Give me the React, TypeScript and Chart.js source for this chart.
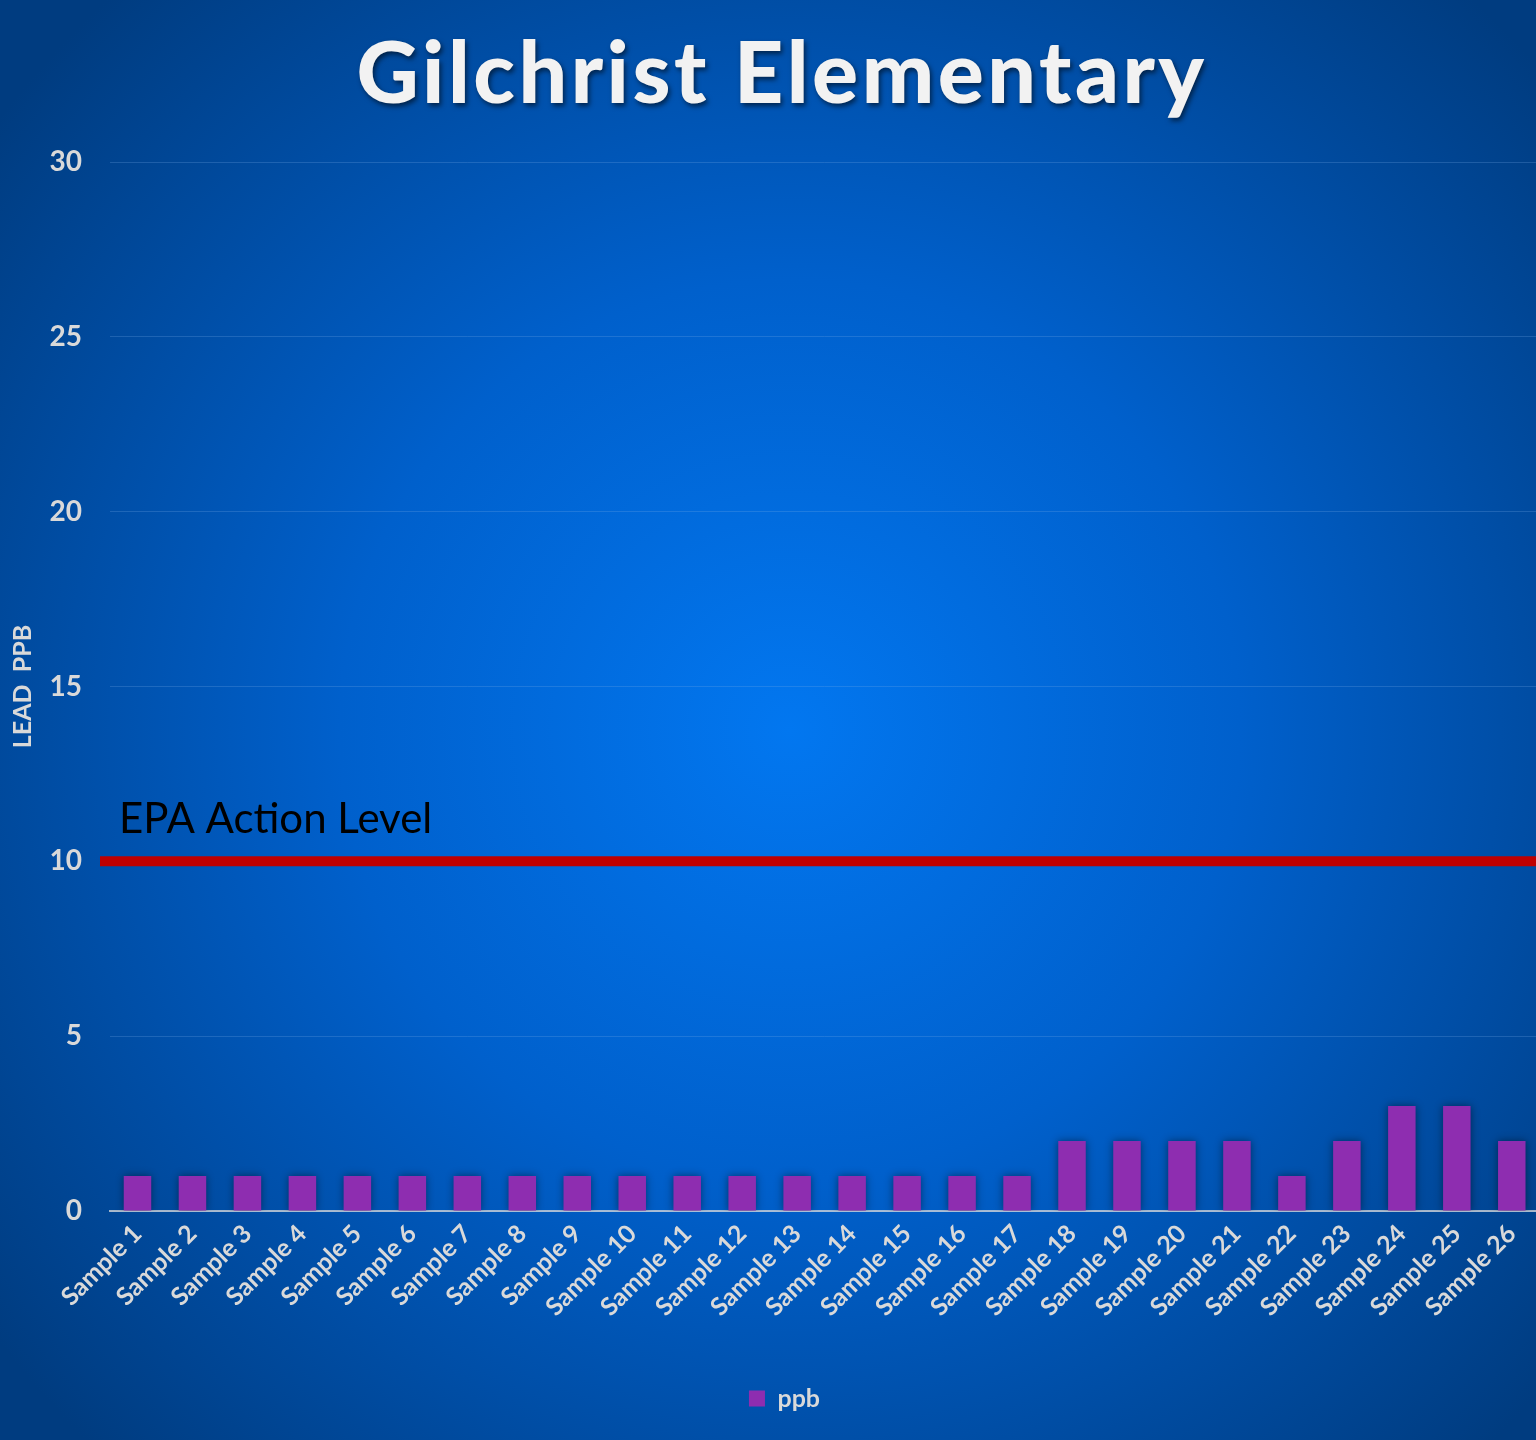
import React, { useEffect, useRef } from "react";
import { Chart, registerables } from "chart.js";

Chart.register(...registerables);

const categories = Array.from({ length: 26 }, (_, i) => `Sample ${i + 1}`);
const ppbValues = [1, 1, 1, 1, 1, 1, 1, 1, 1, 1, 1, 1, 1, 1, 1, 1, 1, 2, 2, 2, 2, 1, 2, 3, 3, 2];
const actionLevel = 10;
const titleText = "Gilchrist Elementary";
const actionLabel = "EPA Action Level";
const yAxisTitle = "LEAD  PPB";

const FONT = "Lato, 'Open Sans', sans-serif";
const TICK = "#d9d9d9";

const bgPlugin = {
  id: "bgPlugin",
  beforeDraw(chart: any) {
    const { ctx, width, height } = chart;
    ctx.save();
    const g = ctx.createRadialGradient(790, 730, 0, 790, 730, 1000);
    g.addColorStop(0, "#0277f0");
    g.addColorStop(0.45, "#0060cc");
    g.addColorStop(1, "#003c80");
    ctx.fillStyle = g;
    ctx.fillRect(0, 0, width, height);
    ctx.restore();
  },
};

const titlePlugin = {
  id: "titlePlugin",
  afterDraw(chart: any) {
    const { ctx } = chart;
    ctx.save();
    ctx.font = `900 86px ${FONT}`;
    (ctx as any).letterSpacing = "3.5px";
    ctx.textAlign = "center";
    ctx.textBaseline = "alphabetic";
    ctx.shadowColor = "rgba(0,0,0,0.55)";
    ctx.shadowBlur = 5;
    ctx.shadowOffsetX = 2;
    ctx.shadowOffsetY = 3;
    ctx.fillStyle = "#f2f2f2";
    ctx.fillText(titleText, 782, 103);
    ctx.restore();
  },
};

const shadowPlugin = {
  id: "shadowPlugin",
  beforeDatasetsDraw(chart: any) {
    const { ctx } = chart;
    ctx.save();
    ctx.shadowColor = "rgba(0,0,0,0.45)";
    ctx.shadowBlur = 8;
    ctx.shadowOffsetX = 0;
    ctx.shadowOffsetY = 0;
  },
  afterDatasetsDraw(chart: any) {
    chart.ctx.restore();
  },
};

const legendShift = {
  id: "legendShift",
  afterLayout(chart: any) {
    if (chart.legend) {
      chart.legend.left += 14;
      chart.legend.right += 14;
    }
  },
};

const actionPlugin = {
  id: "actionPlugin",
  afterDatasetsDraw(chart: any) {
    const { ctx, chartArea, scales, width } = chart;
    const y = scales.y.getPixelForValue(actionLevel);
    ctx.save();
    ctx.strokeStyle = "#c00000";
    ctx.lineWidth = 10;
    ctx.beginPath();
    ctx.moveTo(chartArea.left - 10, y);
    ctx.lineTo(width, y);
    ctx.stroke();
    ctx.fillStyle = "#000000";
    ctx.font = `400 42px ${FONT}`;
    ctx.textAlign = "left";
    ctx.textBaseline = "alphabetic";
    ctx.fillText(actionLabel, chartArea.left + 9, y - 28);
    ctx.restore();
  },
};

export default function App() {
  const ref = useRef<HTMLCanvasElement | null>(null);
  useEffect(() => {
    if (!ref.current) return;
    const chart = new Chart(ref.current, {
      type: "bar",
      data: {
        labels: categories,
        datasets: [
          {
            label: "ppb",
            data: ppbValues,
            backgroundColor: "#8e2db0",
            borderWidth: 0,
            categoryPercentage: 1,
            barPercentage: 0.5,
          },
        ],
      },
      options: {
        animation: false,
        responsive: false,
        maintainAspectRatio: false,
        layout: { padding: { top: 162, left: 0, right: 0, bottom: 19 } },
        plugins: {
          title: { display: false },
          tooltip: { enabled: false },
          legend: {
            position: "bottom",
            labels: {
              color: TICK,
              boxWidth: 16,
              boxHeight: 16,
              font: { family: FONT, size: 25, weight: "bold" },
              padding: 10,
            },
          },
        },
        scales: {
          x: {
            afterFit: (s: any) => {
              s.height = 165;
            },
            grid: { display: false, drawTicks: false },
            border: { display: true, color: "rgba(217,217,217,0.75)", width: 2 },
            ticks: {
              color: TICK,
              minRotation: 45,
              maxRotation: 45,
              autoSkip: false,
              padding: 8,
              font: { family: FONT, size: 25, weight: "bold" },
            },
          },
          y: {
            min: 0,
            max: 30,
            afterFit: (s: any) => {
              s.width = 110;
            },
            grid: { color: "rgba(120,170,230,0.25)", lineWidth: 1, drawTicks: false },
            border: { display: false },
            ticks: {
              stepSize: 5,
              color: TICK,
              padding: 28,
              font: { family: FONT, size: 28, weight: "bold" },
            },
            title: {
              display: true,
              text: yAxisTitle,
              color: TICK,
              padding: { top: 8, bottom: 0 },
              font: { family: FONT, size: 25, weight: "bold" },
            },
          },
        },
      },
      plugins: [bgPlugin, shadowPlugin, actionPlugin, titlePlugin, legendShift],
    });
    return () => chart.destroy();
  }, []);
  return (
    <div style={{ position: "fixed", left: 0, top: 0, width: 1541, height: 1440 }}>
      <canvas ref={ref} width={1541} height={1440} style={{ width: 1541, height: 1440, display: "block" }} />
    </div>
  );
}
